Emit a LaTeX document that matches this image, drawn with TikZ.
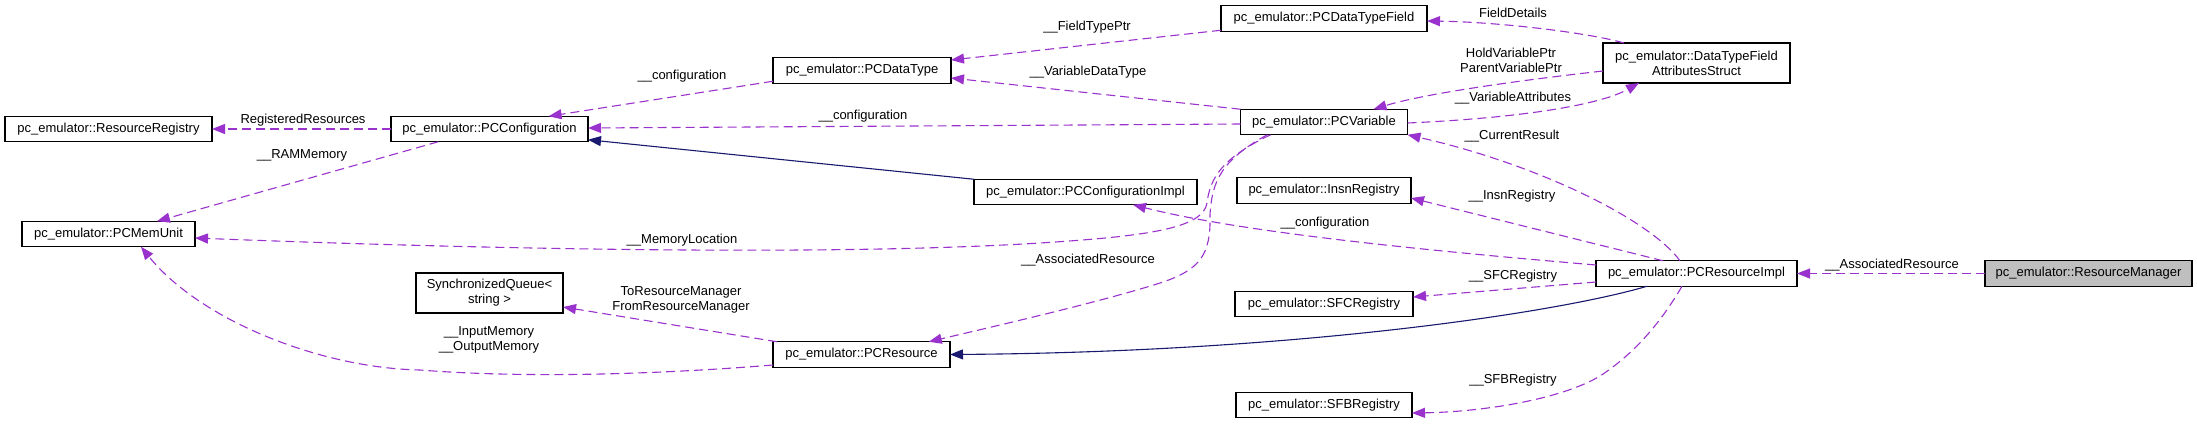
\documentclass[tikz,border=0pt]{standalone}
\usepackage{fontspec}
\setmainfont{Liberation Sans}
\usetikzlibrary{arrows.meta,calc}
\definecolor{usecol}{HTML}{9A32CD}
\definecolor{inhcol}{HTML}{191970}
\definecolor{grayfill}{HTML}{BFBFBF}
\begin{document}
\begin{tikzpicture}[x=1pt,y=-1pt,
  every node/.style={font=\fontsize{13}{15}\selectfont},
  cls/.style={draw=black, fill=white, line width=1.1pt, inner sep=0pt, outer sep=0pt, align=center, minimum height=25.5pt},
  uses/.style={draw=usecol, line width=1.1pt, dash pattern=on 9pt off 5pt, -{Triangle[length=13pt,width=10pt,fill=usecol]}},
  inh/.style={draw=inhcol, line width=1.1pt, -{Triangle[length=13pt,width=10pt,fill=inhcol]}},
  lbl/.style={inner sep=0pt, align=center},
]
\fill[white] (0,0) rectangle (2197,424);
\useasboundingbox (0,0) rectangle (2197,424);

% classes
\node[cls, minimum width=207pt] (RR) at (108.5,129) {pc\_emulator::ResourceRegistry};
\node[cls, minimum width=197pt] (PCC) at (489.5,129) {pc\_emulator::PCConfiguration};
\node[cls, minimum width=173pt] (MEM) at (108.5,234) {pc\_emulator::PCMemUnit};
\node[cls, minimum width=147pt, minimum height=40pt] (SQ) at (489.5,293) {SynchronizedQueue<\\ string >};
\node[cls, minimum width=178pt] (DT) at (862,70.5) {pc\_emulator::PCDataType};
\node[cls, minimum width=206pt] (DTF) at (1324,18.5) {pc\_emulator::PCDataTypeField};
\node[cls, minimum width=167pt] (VAR) at (1324,122) {pc\_emulator::PCVariable};
\node[cls, minimum width=223pt] (CI) at (1085.5,192) {pc\_emulator::PCConfigurationImpl};
\node[cls, minimum width=174pt] (INSN) at (1324,190.5) {pc\_emulator::InsnRegistry};
\node[cls, minimum width=177pt] (RES) at (861.5,354.5) {pc\_emulator::PCResource};
\node[cls, minimum width=178pt] (SFC) at (1324,304) {pc\_emulator::SFCRegistry};
\node[cls, minimum width=176pt] (SFB) at (1324,405) {pc\_emulator::SFBRegistry};
\node[cls, minimum width=187pt, minimum height=40pt] (DTFAS) at (1696.5,63) {pc\_emulator::DataTypeField\\AttributesStruct};
\node[cls, minimum width=201pt] (RI) at (1696.5,273.5) {pc\_emulator::PCResourceImpl};
\node[cls, minimum width=207pt, fill=grayfill] (RM) at (2088.5,273.5) {pc\_emulator::ResourceManager};

% connectors
\draw[uses] (PCC.west) -- (RR.east);
\draw[uses] ($(PCC.south west)!0.24!(PCC.south east)$) -- ($(MEM.north west)!0.78!(MEM.north east)$);
\draw[uses] ($(DT.south west)+(0,-2)$) -- ($(PCC.north west)!0.8!(PCC.north east)$);
\draw[uses] ($(VAR.west)+(0,2)$) -- ($(PCC.east)+(0,-1)$);
\draw[inh] (CI.north west) -- ($(PCC.south east)+(0,-2)$);
\draw[uses] ($(VAR.south west)!0.18!(VAR.south east)$) .. controls (1222,158) and (1210,178) .. (1207,203)
  .. controls (1203,228) and (1150,236) .. (1040,243)
  .. controls (800,258) and (400,246) .. ($(MEM.east)+(0,4)$);
\draw[uses] ($(VAR.south west)!0.16!(VAR.south east)$) .. controls (1222,160) and (1212,180) .. (1210,215)
  .. controls (1211,255) and (1200,270) .. (1160,283)
  .. controls (1100,302) and (1000,325) .. ($(RES.north west)!0.88!(RES.north east)$);
\draw[uses] ($(DTF.south west)+(0,-1)$) -- ($(DT.east)+(0,-10.5)$);
\draw[uses] (VAR.north west) -- ($(DT.east)+(0,7.5)$);
\draw[uses] ($(DTFAS.north west)+(21,0)$) .. controls (1590,33) and (1500,22) .. ($(DTF.east)+(0,2.5)$);
\draw[uses] ($(DTFAS.west)+(0,8)$) .. controls (1540,78) and (1430,92) .. ($(VAR.north west)+(133,0)$);
\draw[uses] ($(VAR.east)+(0,1)$) .. controls (1520,118) and (1600,105) .. ($(DTFAS.south west)+(36,0)$);
\draw[uses] ($(RI.north west)+(84,0)$) .. controls (1650,220) and (1540,165) .. (VAR.south east);
\draw[uses] ($(RI.north west)+(67,0)$) -- ($(INSN.east)+(0,7.5)$);
\draw[uses] ($(RI.west)+(0,-8.5)$) .. controls (1420,250) and (1240,232) .. ($(CI.south west)+(159,0)$);
\draw[uses] ($(RI.west)+(0,8.5)$) -- ($(SFC.east)+(0,-7)$);
\draw[inh] ($(RI.south west)+(51,0)$) .. controls (1560,312) and (1300,352) .. (RES.east);
\draw[uses] ($(RI.south west)+(86,0)$) .. controls (1665,315) and (1640,350) .. (1600,376)
  .. controls (1560,400) and (1480,412) .. ($(SFB.east)+(0,8)$);
\draw[uses] (RM.west) -- (RI.east);
\draw[uses] ($(RES.west)+(0,10.5)$) .. controls (650,375) and (520,378) .. (420,370)
  .. controls (320,368) and (200,320) .. ($(MEM.south west)+(119,0)$);
\draw[uses] ($(RES.north west)+(4,0)$) -- ($(SQ.east)+(0,14)$);

% labels
\node[lbl] (l1) at (303,120) {RegisteredResources};
\node[lbl] (l2) at (302,155) {\_\_RAMMemory};
\node[lbl] (l3) at (682,76) {\_\_configuration};
\node[lbl] (l4) at (863,116) {\_\_configuration};
\node[lbl] (l5) at (682,240) {\_\_MemoryLocation};
\node[lbl] (l6) at (1088,260) {\_\_AssociatedResource};
\node[lbl] (l7) at (1087,27) {\_\_FieldTypePtr};
\node[lbl] (l8) at (1088,72) {\_\_VariableDataType};
\node[lbl] (l9) at (1513,13) {FieldDetails};
\node[lbl] (l10) at (1511,60) {HoldVariablePtr\\ParentVariablePtr};
\node[lbl] (l11) at (1513,98) {\_\_VariableAttributes};
\node[lbl] (l12) at (1512,136) {\_\_CurrentResult};
\node[lbl] (l13) at (1512,196) {\_\_InsnRegistry};
\node[lbl] (l14) at (1325,223) {\_\_configuration};
\node[lbl] (l15) at (1513,276) {\_\_SFCRegistry};
\node[lbl] (l16) at (1513,380) {\_\_SFBRegistry};
\node[lbl] (l17) at (1892,265) {\_\_AssociatedResource};
\node[lbl] (l18) at (489,340) {\_\_InputMemory\\\_\_OutputMemory};
\node[lbl] (l19) at (681,299.5) {ToResourceManager\\FromResourceManager};
\end{tikzpicture}
\end{document}
